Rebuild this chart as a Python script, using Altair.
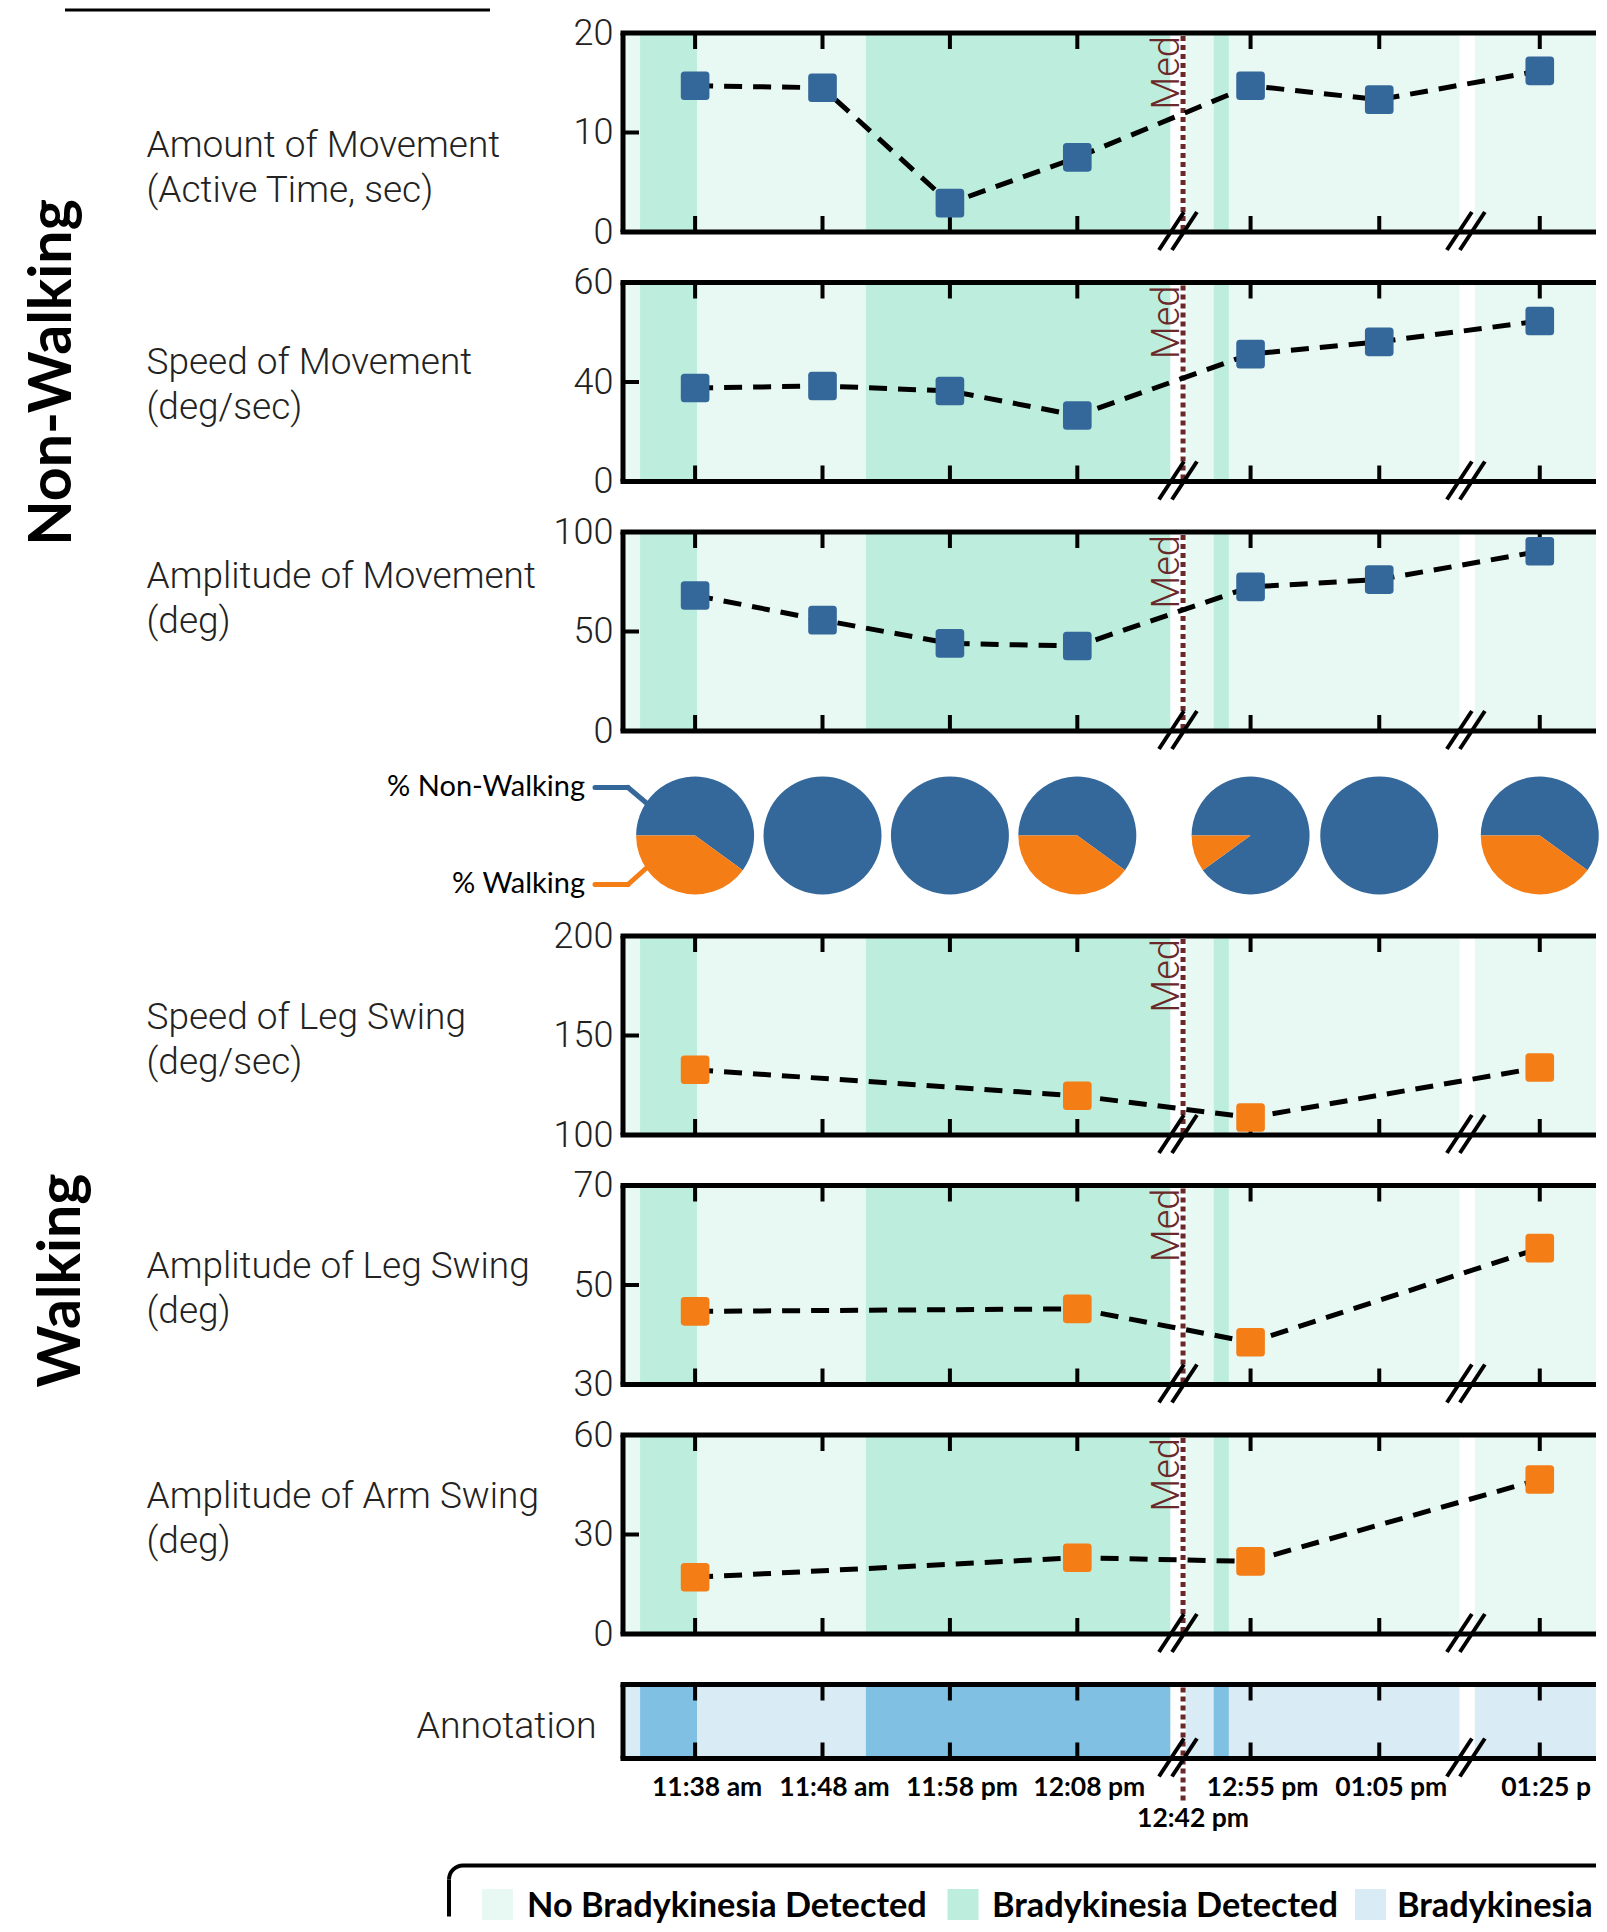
import math
import altair as alt
import pandas as pd

# ---------------- data ----------------
time_labels = ["11:38 am", "11:48 am", "11:58 pm", "12:08 pm", "12:55 pm", "01:05 pm", "01:25 pm"]
time_pos = [0, 10, 20, 30, 43.6, 53.7, 66.3]          # slot on the broken time axis
med_label = "12:42 pm"
med_pos = 38.3
break_pos = [37.9, 60.5]

amount_movement = [14.7, 14.5, 2.9, 7.5, 14.7, 13.3, 16.2]
speed_movement = [28.2, 28.8, 27.3, 19.9, 38.4, 42.1, 48.4]
amp_movement = [68.1, 55.7, 44.0, 42.7, 72.4, 76.1, 90.3]

walk_idx = [0, 3, 4, 6]
speed_leg = [132.8, 119.7, 108.8, 133.9]
amp_leg = [44.7, 45.2, 38.5, 57.4]
amp_arm = [17.1, 23.0, 21.9, 46.6]

pct_walking = [0.40, 0.0, 0.0, 0.40, 0.10, 0.0, 0.40]

band_start = [-5.66, -4.32, 0.15, 13.4, 38.5, 40.7, 41.9, 61.2]
band_end = [-4.32, 0.15, 13.4, 37.3, 40.7, 41.9, 60.0, 73.0]
band_brady = [False, True, False, True, False, True, False, False]

cat_domain = ["No Bradykinesia Detected", "Bradykinesia Detected",
              "Bradykinesia Absent", "Bradykinesia Present"]
cat_range = ["#e8f8f2", "#bdeddd", "#d9ebf5", "#80c0e2"]
legend_items = ["No Bradykinesia Detected", "Bradykinesia Detected", "Bradykinesia Absent"]

# ---------------- layout constants ----------------
W = 973
H = 199
HP = 104
HA = 74
XMIN = -5.66
XMAX = XMIN + W / 12.74
BLUE = "#34689b"
ORANGE = "#f47d16"
MEDC = "#6b2828"
LIGHT = '"Roboto Light", Roboto'
BOLD = "Lato"
ZW = "\u200b"

xscale = alt.Scale(domain=[XMIN, XMAX], nice=False, zero=False)
cscale = alt.Scale(domain=cat_domain, range=cat_range)
band_color = alt.Color("cat:N", scale=cscale, legend=None)

RSQ = ("M-1,-0.75Q-1,-1,-0.75,-1L0.75,-1Q1,-1,1,-0.75L1,0.75Q1,1,0.75,1"
       "L-0.75,1Q-1,1,-1,0.75Z")


def bands_df(annot=False):
    names = (cat_domain[3], cat_domain[2]) if annot else (cat_domain[1], cat_domain[0])
    return pd.DataFrame({"x0": band_start, "x1": band_end,
                         "cat": [names[0] if b else names[1] for b in band_brady]})


one = pd.DataFrame({"k": [0]})
med_df = pd.DataFrame({"pos": [med_pos], "label": [med_label]})
tick_df = pd.DataFrame({"pos": time_pos, "label": time_labels})
brk_df = pd.DataFrame({"bp": break_pos})


def X(field):
    return alt.X(field, scale=xscale, axis=None)


def frame_layers(h):
    r = lambda **kw: alt.Chart(one).mark_rule(color="black", strokeWidth=5).encode(**kw)
    return [r(x=alt.value(-2.5), x2=alt.value(W), y=alt.value(0)),
            r(x=alt.value(-2.5), x2=alt.value(W), y=alt.value(h)),
            r(x=alt.value(0), y=alt.value(0), y2=alt.value(h))]


def common_layers(h, med_ext=0, med_text=True):
    layers = []
    layers.append(alt.Chart(med_df).mark_rule(color=MEDC, strokeWidth=5, strokeDash=[5, 4])
                  .encode(x=X("pos:Q"), y=alt.value(3), y2=alt.value(h + med_ext)))
    if med_text:
        layers.append(alt.Chart(med_df).mark_text(text="Med", angle=270, align="right",
                                                  baseline="alphabetic", font=LIGHT,
                                                  fontWeight=300, fontSize=38, color=MEDC,
                                                  xOffset=-4.5)
                      .encode(x=X("pos:Q"), y=alt.value(3)))
    layers += frame_layers(h)
    layers.append(alt.Chart(tick_df).mark_rule(color="black", strokeWidth=4)
                  .encode(x=X("pos:Q"), y=alt.value(0), y2=alt.value(16)))
    layers.append(alt.Chart(tick_df).mark_rule(color="black", strokeWidth=4)
                  .encode(x=X("pos:Q"), y=alt.value(h - 16), y2=alt.value(h)))
    for k in (-6.5, 6.5):
        layers.append(alt.Chart(brk_df).mark_rule(color="black", strokeWidth=4,
                                                  xOffset=k - 12.5, x2Offset=k + 12.5)
                      .encode(x=X("bp:Q"), x2="bp:Q", y=alt.value(h + 18),
                              y2=alt.value(h - 20)))
    return layers


def lab_expr(vals, labs):
    e = "''"
    for v, l in zip(vals, labs):
        e = f"datum.value == {v} ? '{l}' : ({e})"
    return e


def panel(vals, idx, ydom, ylabels, title, title_y, mcolor, extra=()):
    yvals = [ydom[0], (ydom[0] + ydom[1]) / 2, ydom[1]]
    pts = pd.DataFrame({"pos": [time_pos[i] for i in idx], "v": vals})
    ysc = alt.Scale(domain=ydom, nice=False, zero=False)
    axis = alt.Axis(values=yvals, labelExpr=lab_expr(yvals, ylabels), title=title,
                    titleAngle=0, titleAlign="left", titleBaseline="middle",
                    titleX=-477, titleY=title_y)
    Y = lambda f: alt.Y(f, scale=ysc, axis=axis)
    bands = alt.Chart(bands_df()).mark_rect(clip=True).encode(
        x=X("x0:Q"), x2="x1:Q", y=alt.value(0), y2=alt.value(H), color=band_color)
    layers = [bands] + common_layers(H)
    mid = pd.DataFrame({"m": [yvals[1]]})
    layers.append(alt.Chart(mid).mark_rule(color="black", strokeWidth=4)
                  .encode(x=alt.value(0), x2=alt.value(16), y=Y("m:Q")))
    layers.append(alt.Chart(pts).mark_line(color="black", strokeWidth=5, strokeDash=[18, 11])
                  .encode(x=X("pos:Q"), y=Y("v:Q")))
    layers.append(alt.Chart(pts).mark_point(shape=RSQ, filled=True, size=820, opacity=1,
                                            color=mcolor)
                  .encode(x=X("pos:Q"), y=Y("v:Q")))
    layers += list(extra)
    return alt.layer(*layers).properties(width=W, height=H)


top_line = (alt.Chart(one).mark_rule(color="black", strokeWidth=3)
            .encode(x=alt.value(-558), x2=alt.value(-133), y=alt.value(-23)))
nonwalk_txt = (alt.Chart(one).mark_text(text="Non-Walking", angle=270, font=BOLD,
                                        fontWeight="bold", fontSize=59, align="center",
                                        baseline="middle", color="black")
               .encode(x=alt.value(-570), y=alt.value(90)))
walk_txt = (alt.Chart(one).mark_text(text="Walking", angle=270, font=BOLD,
                                     fontWeight="bold", fontSize=59, align="center",
                                     baseline="middle", color="black")
            .encode(x=alt.value(-561), y=alt.value(95)))

p1 = panel(amount_movement, range(7), [0, 20], ["0", "10", "20"],
           ["Amount of Movement", "(Active Time, sec)"], 112, BLUE, [top_line])
p2 = panel(speed_movement, range(7), [0, 60], ["0", "40", "60"],
           ["Speed of Movement", "(deg/sec)"], 80, BLUE, [nonwalk_txt])
p3 = panel(amp_movement, range(7), [0, 100], ["0", "50", "100"],
           ["Amplitude of Movement", "(deg)"], 44, BLUE)
p4 = panel(speed_leg, walk_idx, [100, 200], ["100", "150", "200"],
           ["Speed of Leg Swing", "(deg/sec)"], 81, ORANGE)
p5 = panel(amp_leg, walk_idx, [30, 70], ["30", "50", "70"],
           ["Amplitude of Leg Swing", "(deg)"], 81, ORANGE, [walk_txt])
p6 = panel(amp_arm, walk_idx, [0, 60], ["0", "30", "60"],
           ["Amplitude of Arm Swing", "(deg)"], 61, ORANGE)

# ---------------- pies ----------------
rows = []
for p, w in zip(time_pos, pct_walking):
    rows.append({"pos": p, "kind": "% Non-Walking", "t0": 0.0, "t1": 1 - w})
    if w > 0:
        rows.append({"pos": p, "kind": "% Walking", "t0": 1 - w, "t1": 1.0})
pie_df = pd.DataFrame(rows)

arcs = alt.Chart(pie_df).mark_arc(radius=59).encode(
    x=alt.X("pos:Q", scale=xscale, axis=None, stack=False), y=alt.value(54),
    theta=alt.Theta("t0:Q", stack=False,
                    scale=alt.Scale(domain=[0, 1], range=[1.5 * math.pi, 3.5 * math.pi])),
    theta2="t1:Q",
    fill=alt.Fill("kind:N", scale=alt.Scale(domain=["% Non-Walking", "% Walking"],
                                            range=[BLUE, ORANGE]), legend=None))

pie_layers = [arcs]
for txt, ty, col in (("% Non-Walking", 5, BLUE), ("% Walking", 102, ORANGE)):
    ly = ty + 1
    ey = 22 if ty < 50 else 86
    pie_layers.append(alt.Chart(one).mark_text(text=txt, align="right", baseline="middle",
                                               font=BOLD, fontSize=29, color="black")
                      .encode(x=alt.value(-38), y=alt.value(ty)))
    pie_layers.append(alt.Chart(one).mark_rule(color=col, strokeWidth=5, strokeCap="round")
                      .encode(x=alt.value(-28), x2=alt.value(5), y=alt.value(ly)))
    pie_layers.append(alt.Chart(one).mark_rule(color=col, strokeWidth=5, strokeCap="round")
                      .encode(x=alt.value(5), x2=alt.value(24), y=alt.value(ly),
                              y2=alt.value(ey)))
pies = alt.layer(*pie_layers).properties(width=W, height=HP)

# ---------------- annotation + legend ----------------
ann_bands = alt.Chart(bands_df(True)).mark_rect(clip=True).encode(
    x=X("x0:Q"), x2="x1:Q", y=alt.value(0), y2=alt.value(HA), color=band_color)
ann_layers = [ann_bands] + common_layers(HA, med_ext=42, med_text=False)
lbl = dict(font=BOLD, fontWeight="bold", fontSize=26.5, baseline="middle", color="black")
ann_layers.append(alt.Chart(tick_df).transform_filter("datum.pos < 60")
                  .mark_text(dx=12, **lbl)
                  .encode(x=X("pos:Q"), y=alt.value(HA + 29.5), text="label:N"))
last_left = (66.3 - XMIN) * 12.74 - 38.6
ann_layers.append(alt.Chart(tick_df).transform_filter("datum.pos > 60")
                  .mark_text(dx=-38.6, align="left", limit=W + 1 - last_left, ellipsis=ZW,
                             **lbl)
                  .encode(x=X("pos:Q"), y=alt.value(HA + 29.5), text="label:N"))
ann_layers.append(alt.Chart(med_df).mark_text(dx=10, **lbl)
                  .encode(x=X("pos:Q"), y=alt.value(HA + 60), text="label:N"))
ann_layers.append(alt.Chart(one).mark_text(text="Annotation", align="right",
                                           baseline="middle", font=LIGHT, fontWeight=300,
                                           fontSize=37.5, color="#222")
                  .encode(x=alt.value(-26.5), y=alt.value(42.6)))

# legend (drawn as marks, cut by the page edge like the original figure)
LG_TOP = 181
LG_LEFT = -174
leg_df = pd.DataFrame({"cat": legend_items, "sx": [-125.5, 340, 747.5], "tx": [-96, 369, 774]})
ann_layers.append(alt.Chart(leg_df).mark_point(shape="square", filled=True, size=961,
                                               opacity=1)
                  .encode(x=alt.X("sx:Q", scale=None), y=alt.value(LG_TOP + 39),
                          color=band_color))
leg_txt = dict(font=BOLD, fontWeight="bold", fontSize=34.3, baseline="middle", align="left",
               color="black")
ann_layers.append(alt.Chart(leg_df).transform_filter("datum.tx < 700")
                  .mark_text(**leg_txt)
                  .encode(x=alt.X("tx:Q", scale=None), y=alt.value(LG_TOP + 41),
                          text="cat:N"))
ann_layers.append(alt.Chart(leg_df).transform_filter("datum.tx > 700")
                  .mark_text(limit=W + 1 - 774, ellipsis=ZW, **leg_txt)
                  .encode(x=alt.X("tx:Q", scale=None), y=alt.value(LG_TOP + 41),
                          text="cat:N"))
ann_layers.append(alt.Chart(one).mark_rule(color="black", strokeWidth=4)
                  .encode(x=alt.value(LG_LEFT + 14), x2=alt.value(W), y=alt.value(LG_TOP)))
ann_layers.append(alt.Chart(one).mark_rule(color="black", strokeWidth=4)
                  .encode(x=alt.value(LG_LEFT), y=alt.value(LG_TOP + 14),
                          y2=alt.value(232)))
ann_layers.append(alt.Chart(one).mark_arc(radius=16, radius2=12, theta=1.5 * math.pi,
                                          theta2=2 * math.pi, color="black")
                  .encode(x=alt.value(LG_LEFT + 14), y=alt.value(LG_TOP + 14)))
ann = alt.layer(*ann_layers).properties(width=W, height=HA)

chart = (alt.vconcat(p1, p2, p3, pies, p4, p5, p6, ann, spacing=50.5, bounds="flush")
         .properties(padding={"left": 16, "top": 0, "right": 0, "bottom": 0})
         .configure_view(strokeWidth=0)
         .configure_axis(labelFont=LIGHT, labelFontWeight=300, labelFontSize=36,
                         labelColor="#222", titleFont=LIGHT, titleFontWeight=300,
                         titleFontSize=37, titleColor="#222", titleLineHeight=45,
                         ticks=False, domain=False, grid=False, labelPadding=10,
                         tickSize=0))

chart.save("out.html", embed_options={"renderer": "svg", "actions": False})
